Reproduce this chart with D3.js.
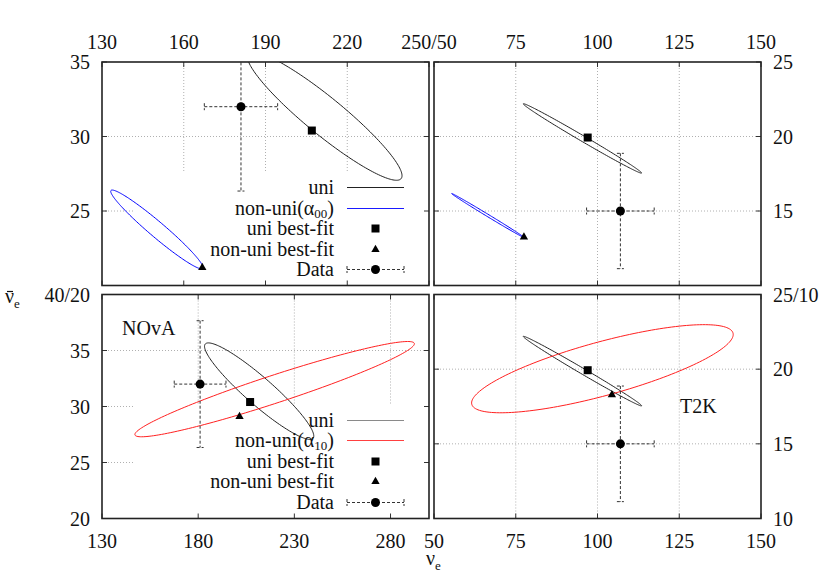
<!DOCTYPE html>
<html>
<head>
<meta charset="utf-8">
<script src="https://cdn.jsdelivr.net/npm/d3@7"></script>
<style>
  body { margin: 0; background: #fff; }
  svg text { font-family: "Liberation Serif", "Times New Roman", serif; fill: #111; }
</style>
</head>
<body>
<svg id="chart" width="830" height="581"></svg>
<script>
// measured events and best fits (nu_e, nu_e-bar)
const novaData = [181, 32];
const novaErr = [13.45, 5.66];
const t2kData = [107, 15];
const t2kErr = [10.34, 3.87];

const novaUniFit = [207, 30.4];
const novaFit00 = [166.8, 21.2];
const novaFit10 = [201.5, 29.1];
const t2kUniFit = [97, 19.93];
const t2kFit00 = [77.5, 13.25];
const t2kFit10 = [104.4, 18.28];

// contours: [centre x, centre y, tip dx, tip dy, vertical half-width]
const novaUniEll = [211.7, 31.37, 28.4, -4.0, 1.6];
const novaEll00 = [150.15, 23.76, 16.95, -2.56, 0.67];
const novaEll10 = [219.75, 31.55, 72.65, 4.05, 1.3];
const t2kUniEll = [95.4, 19.87, 18.1, -2.32, 0.22];
const t2kEll00 = [66.45, 14.7, 11.05, -1.47, 0.09];
const t2kEll10 = [101.5, 20.03, 40, 2.29, 1.86];

// axes
const novaTopX = [130, 250];
const novaTopY = [20, 35];
const novaBotX = [130, 300];
const novaBotY = [20, 40];
const t2kX = [50, 150];
const t2kY = [10, 25];

const novaTopXTicks = [130, 160, 190, 220, 250];
const novaTopYTicks = [20, 25, 30, 35];
const novaBotXTicks = [130, 180, 230, 280];
const novaBotYTicks = [20, 25, 30, 35, 40];
const t2kXTicks = [50, 75, 100, 125, 150];
const t2kYTicks = [10, 15, 20, 25];

const svg = d3.select("#chart");
const FONT = 20;
const SUB = 13;

function ellipsePath(e, x, y) {
  const [cx, cy, ux, uy, h] = e;
  const pts = d3.range(0, 361, 2).map((a) => {
    const t = a * Math.PI / 180;
    return [x(cx + ux * Math.cos(t)), y(cy + uy * Math.cos(t) + h * Math.sin(t))];
  });
  return d3.line()(pts) + "Z";
}

function drawMarker(g, kind, px, py) {
  if (kind === "square") {
    g.append("rect").attr("x", px - 4).attr("y", py - 4).attr("width", 8).attr("height", 8).attr("fill", "#000");
  } else if (kind === "triangle") {
    g.append("path").attr("d", d3.symbol().type(d3.symbolTriangle).size(30)()).attr("transform", `translate(${px},${py})`).attr("fill", "#000");
  } else {
    g.append("circle").attr("cx", px).attr("cy", py).attr("r", 4.5).attr("fill", "#000");
  }
}

function drawErrorBar(g, px, py, x0, x1, y0, y1) {
  const st = (sel) => sel.attr("stroke", "#333").attr("stroke-width", 1).attr("stroke-dasharray", "3,2").attr("fill", "none");
  st(g.append("line").attr("x1", x0).attr("x2", x1).attr("y1", py).attr("y2", py));
  st(g.append("line").attr("x1", px).attr("x2", px).attr("y1", y0).attr("y2", y1));
  [x0, x1].forEach((v) => st(g.append("line").attr("x1", v).attr("x2", v).attr("y1", py - 3.5).attr("y2", py + 3.5)));
  [y0, y1].forEach((v) => st(g.append("line").attr("x1", px - 3.5).attr("x2", px + 3.5).attr("y1", v).attr("y2", v)));
  drawMarker(g, "circle", px, py);
}

let clipCount = 0;

function drawPanel(cfg) {
  const b = cfg.box;
  const x = d3.scaleLinear().domain(cfg.xDomain).range([b.x0, b.x1]);
  const y = d3.scaleLinear().domain(cfg.yDomain).range([b.y1, b.y0]);
  const g = svg.append("g");
  const id = "clip" + (clipCount++);
  svg.append("clipPath").attr("id", id).append("rect")
    .attr("x", b.x0).attr("y", b.y0).attr("width", b.x1 - b.x0).attr("height", b.y1 - b.y0);

  // grid
  const grid = g.append("g").attr("stroke", "#b0b0b0").attr("stroke-width", 1).attr("stroke-dasharray", "1,2");
  cfg.xTicks.slice(1).filter((v) => v < cfg.xDomain[1]).forEach((v) => {
    grid.append("line").attr("x1", x(v)).attr("x2", x(v)).attr("y1", b.y0).attr("y2", b.y1);
  });
  cfg.yTicks.slice(1).filter((v) => v < cfg.yDomain[1]).forEach((v) => {
    grid.append("line").attr("x1", b.x0).attr("x2", b.x1).attr("y1", y(v)).attr("y2", y(v));
  });

  // opaque key box
  if (cfg.legend) {
    g.append("rect").attr("x", 133).attr("y", b.y0 + 110.5).attr("width", b.x1 - 133).attr("height", b.y1 - b.y0 - 110.5).attr("fill", "#fff");
  }

  // ticks, inward and mirrored
  const tk = g.append("g").attr("stroke", "#333").attr("stroke-width", 1);
  cfg.xTicks.forEach((v) => {
    tk.append("line").attr("x1", x(v)).attr("x2", x(v)).attr("y1", b.y1).attr("y2", b.y1 - 5);
    tk.append("line").attr("x1", x(v)).attr("x2", x(v)).attr("y1", b.y0).attr("y2", b.y0 + 5);
  });
  cfg.yTicks.forEach((v) => {
    tk.append("line").attr("x1", b.x0).attr("x2", b.x0 + 5).attr("y1", y(v)).attr("y2", y(v));
    tk.append("line").attr("x1", b.x1).attr("x2", b.x1 - 5).attr("y1", y(v)).attr("y2", y(v));
  });

  // contours
  const plot = g.append("g").attr("clip-path", `url(#${id})`);
  plot.append("path").attr("d", ellipsePath(cfg.uniEll, x, y)).attr("fill", "none").attr("stroke", "#222").attr("stroke-width", 1);
  plot.append("path").attr("d", ellipsePath(cfg.nonEll, x, y)).attr("fill", "none").attr("stroke", cfg.color).attr("stroke-width", 1);

  // data with error bars
  const d = cfg.data, e = cfg.err;
  drawErrorBar(plot, x(d[0]), y(d[1]), x(d[0] - e[0]), x(d[0] + e[0]), y(d[1] + e[1]), y(d[1] - e[1]));
  drawMarker(plot, "square", x(cfg.uniFit[0]), y(cfg.uniFit[1]));
  drawMarker(plot, "triangle", x(cfg.nonFit[0]), y(cfg.nonFit[1]));

  // key
  if (cfg.legend) {
    const top = b.y0 + 125;
    const tx = 334, s0 = 347, s1 = 404, sm = (s0 + s1) / 2;
    const rows = ["uni", "non", "unifit", "nonfit", "data"];
    rows.forEach((r, i) => {
      const cy = Math.round(top + i * 20.5) + 0.5;
      const t = g.append("text").attr("x", tx).attr("y", cy + 6.5).attr("text-anchor", "end").attr("font-size", FONT);
      if (r === "uni") {
        t.text("uni");
        g.append("line").attr("x1", s0).attr("x2", s1).attr("y1", cy).attr("y2", cy).attr("stroke", cfg.uniSample).attr("stroke-width", 1);
      } else if (r === "non") {
        t.append("tspan").text("non-uni(α");
        t.append("tspan").attr("font-size", SUB).attr("dy", 3).text(cfg.alpha);
        t.append("tspan").attr("dy", -3).text(")");
        g.append("line").attr("x1", s0).attr("x2", s1).attr("y1", cy).attr("y2", cy).attr("stroke", cfg.sampleColor).attr("stroke-width", 1);
      } else if (r === "unifit") {
        t.text("uni best-fit");
        drawMarker(g, "square", sm, cy);
      } else if (r === "nonfit") {
        t.text("non-uni best-fit");
        drawMarker(g, "triangle", sm, cy);
      } else {
        t.text("Data");
        drawErrorBar(g, sm, cy, s0, s1, cy, cy);
      }
    });
  }

  if (cfg.label) {
    g.append("text").attr("x", cfg.label[1]).attr("y", cfg.label[2]).attr("font-size", FONT).text(cfg.label[0]);
  }

  // border
  g.append("rect").attr("x", b.x0).attr("y", b.y0).attr("width", b.x1 - b.x0).attr("height", b.y1 - b.y0)
    .attr("fill", "none").attr("stroke", "#222").attr("stroke-width", 1.6);

  // tick labels
  (cfg.xLabels || []).forEach(([v, txt]) => {
    g.append("text").attr("x", x(v)).attr("y", cfg.xLabelSide === "top" ? b.y0 - 13 : b.y1 + 29)
      .attr("text-anchor", "middle").attr("font-size", FONT).text(txt);
  });
  (cfg.yLabels || []).forEach(([v, txt]) => {
    const left = cfg.yLabelSide === "left";
    g.append("text").attr("x", left ? b.x0 - 12 : b.x1 + 12).attr("y", y(v) + 7)
      .attr("text-anchor", left ? "end" : "start").attr("font-size", FONT).text(txt);
  });
}

const TL = { x0: 102, x1: 429, y0: 62, y1: 285.5 };
const TR = { x0: 434, x1: 761, y0: 62, y1: 285.5 };
const BL = { x0: 102, x1: 429, y0: 294.5, y1: 518.5 };
const BR = { x0: 434, x1: 761, y0: 294.5, y1: 518.5 };

drawPanel({
  box: TL, xDomain: novaTopX, yDomain: novaTopY, xTicks: novaTopXTicks, yTicks: novaTopYTicks,
  uniEll: novaUniEll, nonEll: novaEll00, color: "#0000ff", data: novaData, err: novaErr,
  uniFit: novaUniFit, nonFit: novaFit00, legend: true, alpha: "00", uniSample: "#222", sampleColor: "#1a1aff",
  xLabelSide: "top", xLabels: [[130, "130"], [160, "160"], [190, "190"], [220, "220"], [250, "250/50"]],
  yLabelSide: "left", yLabels: [[35, "35"], [30, "30"], [25, "25"]]
});

drawPanel({
  box: TR, xDomain: t2kX, yDomain: t2kY, xTicks: t2kXTicks, yTicks: t2kYTicks,
  uniEll: t2kUniEll, nonEll: t2kEll00, color: "#0000ff", data: t2kData, err: t2kErr,
  uniFit: t2kUniFit, nonFit: t2kFit00,
  xLabelSide: "top", xLabels: [[75, "75"], [100, "100"], [125, "125"], [150, "150"]],
  yLabelSide: "right", yLabels: [[25, "25"], [20, "20"], [15, "15"]]
});

drawPanel({
  box: BL, xDomain: novaBotX, yDomain: novaBotY, xTicks: novaBotXTicks, yTicks: novaBotYTicks,
  uniEll: novaUniEll, nonEll: novaEll10, color: "#ff2020", data: novaData, err: novaErr,
  uniFit: novaUniFit, nonFit: novaFit10, legend: true, alpha: "10", uniSample: "#8a8a8a", sampleColor: "#ff4040",
  label: ["NOvA", 122, 335],
  xLabelSide: "bottom", xLabels: [[130, "130"], [180, "180"], [230, "230"], [280, "280"]],
  yLabelSide: "left", yLabels: [[40, "40/20"], [35, "35"], [30, "30"], [25, "25"], [20, "20"]]
});

drawPanel({
  box: BR, xDomain: t2kX, yDomain: t2kY, xTicks: t2kXTicks, yTicks: t2kYTicks,
  uniEll: t2kUniEll, nonEll: t2kEll10, color: "#ff2020", data: t2kData, err: t2kErr,
  uniFit: t2kUniFit, nonFit: t2kFit10,
  label: ["T2K", 680, 413],
  xLabelSide: "bottom", xLabels: [[50, "50"], [75, "75"], [100, "100"], [125, "125"], [150, "150"]],
  yLabelSide: "right", yLabels: [[25, "25/10"], [20, "20"], [15, "15"], [10, "10"]]
});

// axis titles
const yt = svg.append("text").attr("x", 5).attr("y", 303).attr("font-size", FONT);
yt.append("tspan").text("ν");
yt.append("tspan").attr("font-size", SUB).attr("dy", 5).text("e");
svg.append("line").attr("x1", 7).attr("x2", 13).attr("y1", 291.5).attr("y2", 291.5).attr("stroke", "#111").attr("stroke-width", 1.2);

const xt = svg.append("text").attr("x", 426).attr("y", 565).attr("font-size", FONT);
xt.append("tspan").text("ν");
xt.append("tspan").attr("font-size", SUB).attr("dy", 5).text("e");
</script>
</body>
</html>
